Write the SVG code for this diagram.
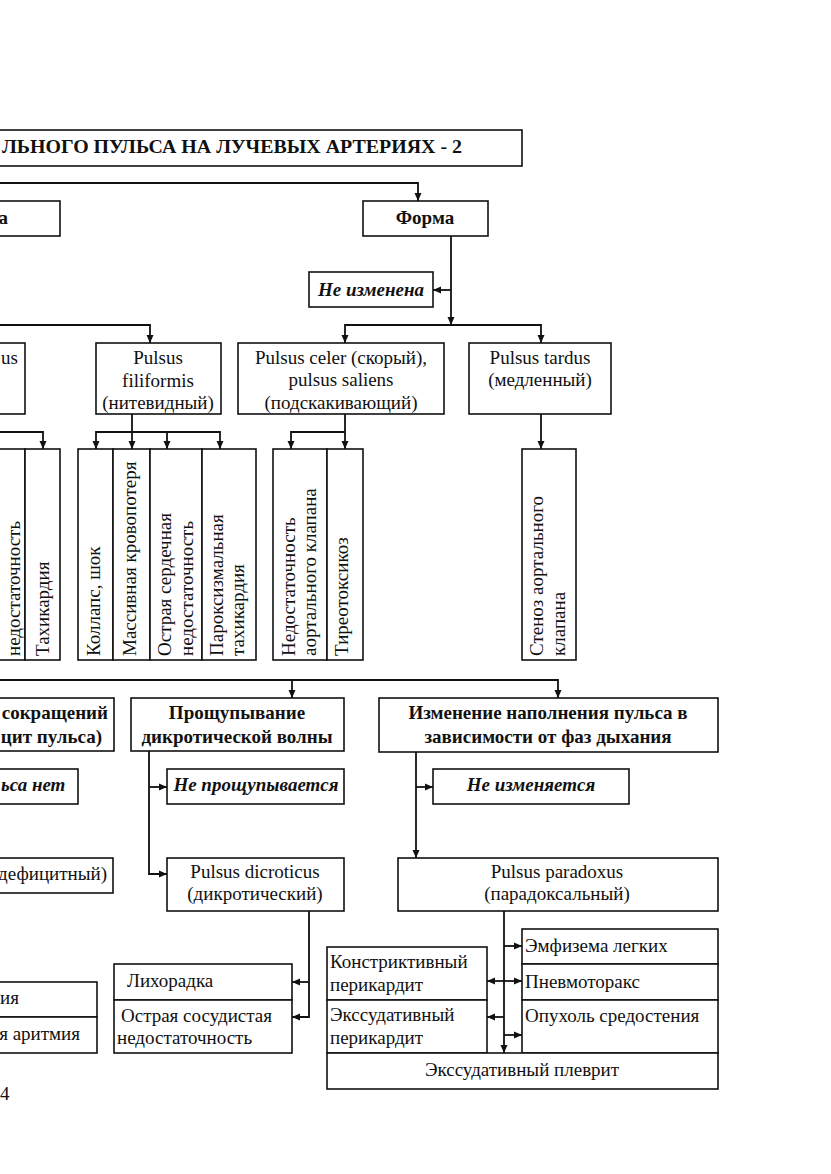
<svg xmlns="http://www.w3.org/2000/svg" width="831" height="1174" viewBox="0 0 831 1174">
<style>
rect{fill:#fff;stroke:#111;stroke-width:1.6}
text{font-family:"Liberation Serif","Times New Roman",serif;font-size:19px;fill:#111}
.b{font-weight:bold}
.bi{font-weight:bold;font-style:italic}
.c{text-anchor:middle}
.e{text-anchor:end}
#connectors path{fill:none;stroke:#111;stroke-width:1.8}
</style>
<defs>
<marker id="ar" markerUnits="userSpaceOnUse" markerWidth="9" markerHeight="8" refX="8" refY="4" orient="auto">
<path d="M0,0.5 L8,4 L0,7.5 z" fill="#111"/>
</marker>
</defs>
<rect x="0" y="0" width="831" height="1174" style="fill:#fff;stroke:none"/>

<g id="connectors">
<path d="M-5,183 H418 V201" marker-end="url(#ar)"/>
<path d="M451,236 V325" marker-end="url(#ar)"/>
<path d="M451,290 H433" marker-end="url(#ar)"/>
<path d="M451,325 H345 V343" marker-end="url(#ar)"/>
<path d="M451,325 H541 V343" marker-end="url(#ar)"/>
<path d="M-5,325 H150 V343" marker-end="url(#ar)"/>
<path d="M-5,432 H43 V449" marker-end="url(#ar)"/>
<path d="M132,414 V449" marker-end="url(#ar)"/>
<path d="M132,432 H96 V449" marker-end="url(#ar)"/>
<path d="M132,432 H220 V449" marker-end="url(#ar)"/>
<path d="M167,432 V449" marker-end="url(#ar)"/>
<path d="M345,414 V449" marker-end="url(#ar)"/>
<path d="M345,432 H291 V449" marker-end="url(#ar)"/>
<path d="M541,414 V449" marker-end="url(#ar)"/>
<path d="M-5,680 H558 V698" marker-end="url(#ar)"/>
<path d="M292,680 V698" marker-end="url(#ar)"/>
<path d="M149,751 V874 H167" marker-end="url(#ar)"/>
<path d="M149,787 H167" marker-end="url(#ar)"/>
<path d="M416,752 V858" marker-end="url(#ar)"/>
<path d="M416,787 H433" marker-end="url(#ar)"/>
<path d="M309,911 V1017 H292" marker-end="url(#ar)"/>
<path d="M309,982 H292" marker-end="url(#ar)"/>
<path d="M504,911 V1053" marker-end="url(#ar)"/>
<path d="M504,946 H522" marker-end="url(#ar)"/>
<path d="M504,981 H522" marker-end="url(#ar)"/>
<path d="M504,981 H487" marker-end="url(#ar)"/>
<path d="M504,1017 H487" marker-end="url(#ar)"/>
<path d="M504,1035 H522" marker-end="url(#ar)"/>
</g>

<g id="title">
<rect x="-5" y="130" width="527" height="36"/>
<text class="b" x="2" y="153" textLength="460" lengthAdjust="spacingAndGlyphs">ЛЬНОГО ПУЛЬСА НА ЛУЧЕВЫХ АРТЕРИЯХ - 2</text>
</g>

<g id="left-header">
<rect x="-5" y="201" width="65" height="35"/>
<text class="b e" x="8" y="224">а</text>
</g>

<g id="forma">
<rect x="363" y="201" width="125" height="35"/>
<text class="b c" x="425" y="224">Форма</text>
</g>

<g id="ne-izmenena">
<rect x="309" y="272" width="124" height="35"/>
<text class="bi c" x="371" y="296">Не изменена</text>
</g>

<g id="left-pulsus">
<rect x="-5" y="343" width="30" height="71"/>
<text class="e" x="18" y="364">us</text>
</g>

<g id="filiformis">
<rect x="96" y="343" width="125" height="71"/>
<text class="c" x="158" y="364">Pulsus</text>
<text class="c" x="158" y="387">filiformis</text>
<text class="c" x="158" y="409">(нитевидный)</text>
</g>

<g id="celer">
<rect x="238" y="343" width="206" height="71"/>
<text class="c" x="341" y="364">Pulsus celer (скорый),</text>
<text class="c" x="341" y="386">pulsus saliens</text>
<text class="c" x="341" y="409">(подскакивающий)</text>
</g>

<g id="tardus">
<rect x="469" y="343" width="142" height="71"/>
<text class="c" x="540" y="364">Pulsus tardus</text>
<text class="c" x="540" y="386">(медленный)</text>
</g>

<g id="left-causes">
<rect x="-5" y="449" width="30" height="211"/>
<rect x="25" y="449" width="35" height="211"/>
<text transform="translate(20,656) rotate(-90)">недостаточность</text>
<text transform="translate(49,656) rotate(-90)">Тахикардия</text>
</g>

<g id="filiformis-causes">
<rect x="78" y="449" width="35" height="211"/>
<rect x="113" y="449" width="37" height="211"/>
<rect x="150" y="449" width="52" height="211"/>
<rect x="202" y="449" width="54" height="211"/>
<text transform="translate(100,656) rotate(-90)">Коллапс, шок</text>
<text transform="translate(136,656) rotate(-90)">Массивная кровопотеря</text>
<text transform="translate(171,656) rotate(-90)">Острая сердечная</text>
<text transform="translate(193,656) rotate(-90)">недостаточность</text>
<text transform="translate(223,656) rotate(-90)">Пароксизмальная</text>
<text transform="translate(244,656) rotate(-90)">тахикардия</text>
</g>

<g id="celer-causes">
<rect x="273" y="449" width="54" height="211"/>
<rect x="327" y="449" width="36" height="211"/>
<text transform="translate(295,656) rotate(-90)">Недостаточность</text>
<text transform="translate(316,656) rotate(-90)">аортального клапана</text>
<text transform="translate(348,656) rotate(-90)">Тиреотоксикоз</text>
</g>

<g id="tardus-causes">
<rect x="522" y="449" width="54" height="211"/>
<text transform="translate(543,656) rotate(-90)">Стеноз аортального</text>
<text transform="translate(565,656) rotate(-90)">клапана</text>
</g>

<g id="left-deficit-header">
<rect x="-5" y="698" width="119" height="53"/>
<text class="b e" x="108" y="719">сокращений</text>
<text class="b e" x="102" y="743">цит пульса)</text>
</g>

<g id="dicrotic-header">
<rect x="131" y="698" width="213" height="53"/>
<text class="b c" x="237" y="719">Прощупывание</text>
<text class="b c" x="237" y="743">дикротической волны</text>
</g>

<g id="respiration-header">
<rect x="379" y="698" width="339" height="54"/>
<text class="b c" x="548" y="719" font-size="19.5">Изменение наполнения пульса в</text>
<text class="b c" x="548" y="743" font-size="19.5">зависимости от фаз дыхания</text>
</g>

<g id="left-no-deficit">
<rect x="-5" y="769" width="83" height="35"/>
<text class="bi" x="1" y="791">ьса нет</text>
</g>

<g id="ne-proshchupyvaetsya">
<rect x="167" y="769" width="177" height="35"/>
<text class="bi c" x="256" y="791">Не прощупывается</text>
</g>

<g id="ne-izmenyaetsya">
<rect x="433" y="769" width="196" height="35"/>
<text class="bi c" x="531" y="791">Не изменяется</text>
</g>

<g id="left-deficient">
<rect x="-5" y="858" width="118" height="35"/>
<text class="e" x="107" y="880">дефицитный)</text>
</g>

<g id="dicroticus">
<rect x="167" y="858" width="177" height="53"/>
<text class="c" x="255" y="878">Pulsus dicroticus</text>
<text class="c" x="255" y="900">(дикротический)</text>
</g>

<g id="paradoxus">
<rect x="398" y="858" width="320" height="53"/>
<text class="c" x="557" y="878">Pulsus paradoxus</text>
<text class="c" x="557" y="900">(парадоксальный)</text>
</g>

<g id="left-deficit-causes">
<rect x="-5" y="982" width="102" height="35"/>
<rect x="-5" y="1017" width="102" height="36"/>
<text class="e" x="19" y="1004">ия</text>
<text class="e" x="80" y="1040">я аритмия</text>
</g>

<g id="dicroticus-causes">
<rect x="114" y="964" width="178" height="36"/>
<rect x="114" y="1000" width="178" height="53"/>
<text x="127" y="987">Лихорадка</text>
<text x="121" y="1022">Острая сосудистая</text>
<text x="117" y="1044">недостаточность</text>
</g>

<g id="paradoxus-pericard">
<rect x="327" y="947" width="160" height="53"/>
<rect x="327" y="1000" width="160" height="53"/>
<text x="330" y="968">Констриктивный</text>
<text x="330" y="991">перикардит</text>
<text x="330" y="1021">Экссудативный</text>
<text x="330" y="1044">перикардит</text>
</g>

<g id="paradoxus-lung">
<rect x="522" y="929" width="196" height="35"/>
<rect x="522" y="964" width="196" height="36"/>
<rect x="522" y="1000" width="196" height="53"/>
<text x="525" y="952">Эмфизема легких</text>
<text x="525" y="988">Пневмоторакс</text>
<text x="525" y="1022">Опухоль средостения</text>
</g>

<g id="pleurisy">
<rect x="327" y="1053" width="391" height="36"/>
<text class="c" x="522" y="1076">Экссудативный плеврит</text>
</g>

<g id="page-number">
<text x="0" y="1100" font-size="18">4</text>
</g>
</svg>
